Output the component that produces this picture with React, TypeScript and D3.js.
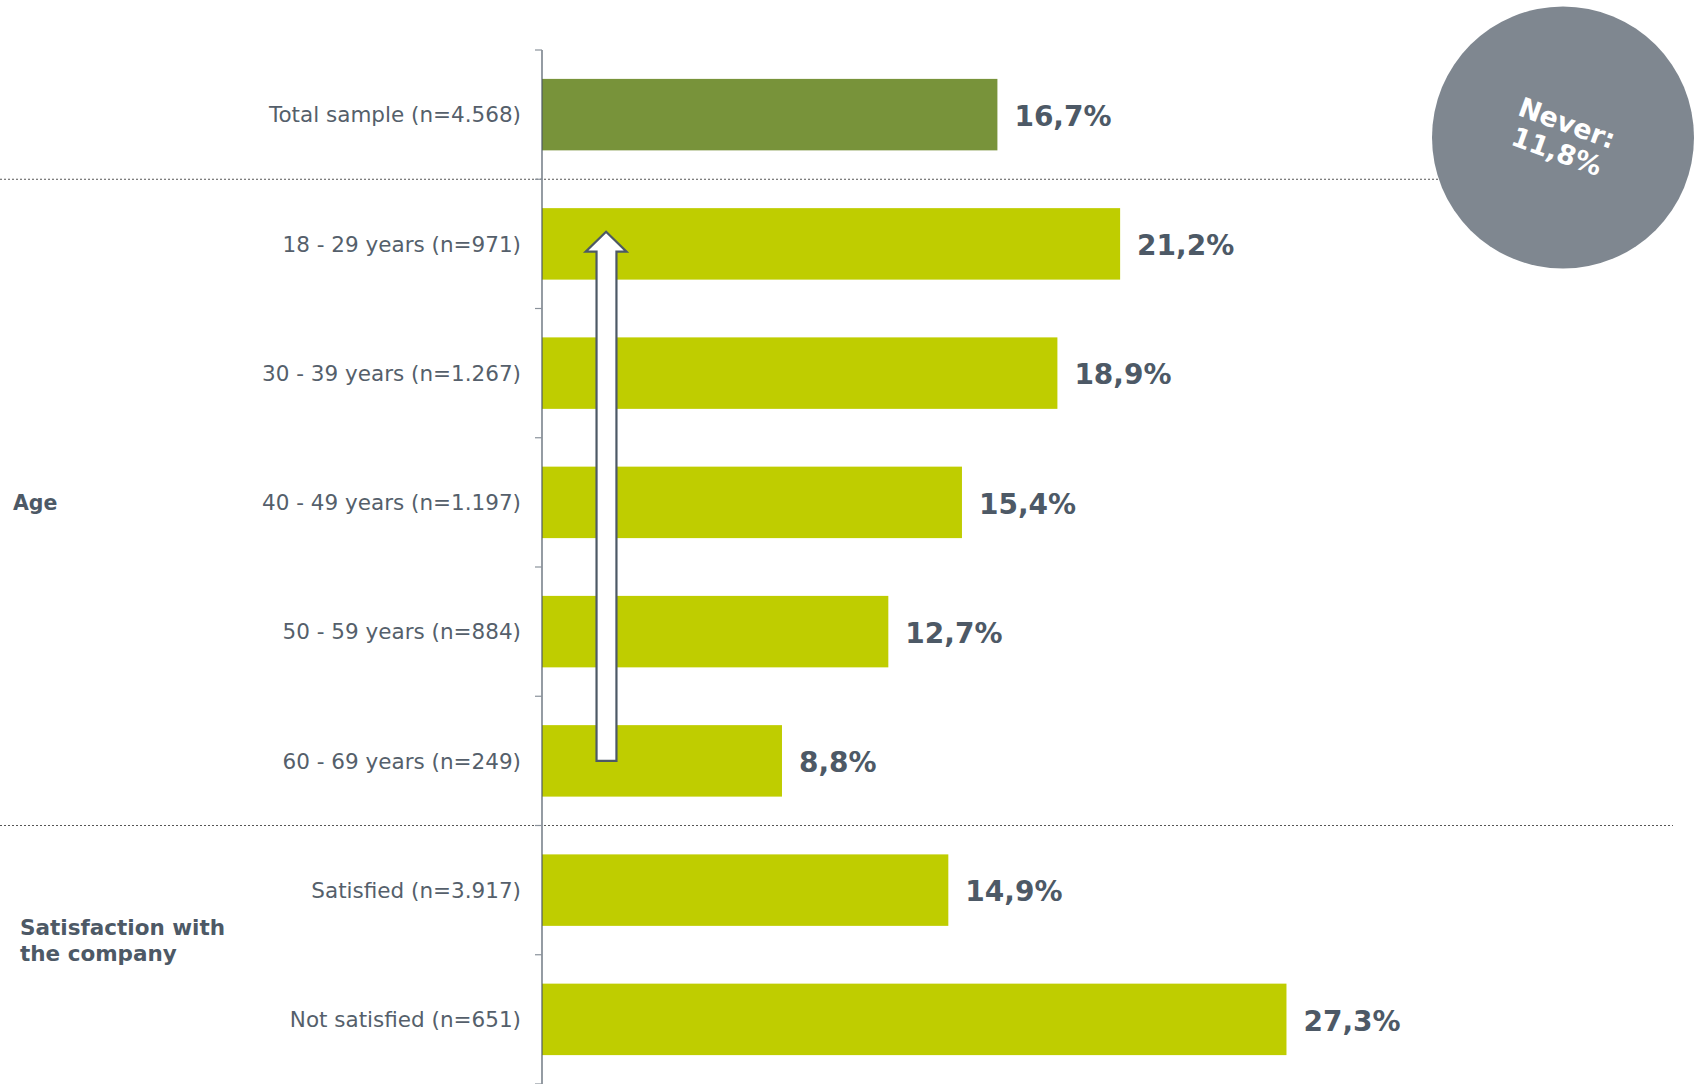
import { useEffect } from "react";
import * as d3 from "d3";

const categories = [
  "Total sample (n=4.568)",
  "18 - 29 years (n=971)",
  "30 - 39 years (n=1.267)",
  "40 - 49 years (n=1.197)",
  "50 - 59 years (n=884)",
  "60 - 69 years (n=249)",
  "Satisfied (n=3.917)",
  "Not satisfied (n=651)",
];
const values = [16.7, 21.2, 18.9, 15.4, 12.7, 8.8, 14.9, 27.3];
const valueLabels = ["16,7%", "21,2%", "18,9%", "15,4%", "12,7%", "8,8%", "14,9%", "27,3%"];
const groups = [
  { lines: ["Age"], from: 1, to: 5 },
  { lines: ["Satisfaction with", "the company"], from: 6, to: 7 },
];
// separators drawn after these category indexes
const separators = [0, 5];
const neverLines = ["Never:", "11,8%"];

const W = 1698;
const H = 1084;
const TEXT = "#555f6b";
const AXIS = "#4d5966";

export default function App() {
  useEffect(() => {
    document.body.style.margin = "0";
  }, []);

  const x0 = 542;
  const y = d3
    .scaleBand<string>()
    .domain(categories)
    .range([50, H])
    .paddingInner(0.447)
    .paddingOuter(0.2235);
  const x = d3.scaleLinear().domain([0, 10]).range([x0, x0 + 272.7]);

  const step = y.step();
  const bw = y.bandwidth();
  const boundary = (i: number) => (y(categories[i]) as number) - (step - bw) / 2;
  const ticks = d3.range(categories.length + 1).map((i) =>
    i < categories.length ? boundary(i) : boundary(i - 1) + step
  );

  // arrow from oldest to youngest age group
  const aLeft = x(2.0);
  const aRight = x(2.73);
  const hLeft = x(1.6);
  const hRight = x(3.1);
  const aBottom = (y(categories[5]) as number) + bw * 0.5;
  const aTip = (y(categories[1]) as number) + bw * 0.33;
  const aBase = aTip + 20;
  const arrow = `M${aLeft},${aBottom} L${aLeft},${aBase} L${hLeft},${aBase} L${(hLeft + hRight) / 2},${aTip} L${hRight},${aBase} L${aRight},${aBase} L${aRight},${aBottom} Z`;

  return (
    <svg width={W} height={H} style={{ display: "block" }} fontFamily="'DejaVu Sans', Verdana, sans-serif">
      {separators.map((i) => (
        <line
          key={i}
          x1={0}
          x2={i === 0 ? 1440 : 1673}
          y1={boundary(i) + step}
          y2={boundary(i) + step}
          stroke="#555"
          strokeWidth={1}
          strokeDasharray="2,2"
        />
      ))}
      {categories.map((c, i) => (
        <g key={c}>
          <rect
            x={x0}
            y={y(c)}
            width={x(values[i]) - x0}
            height={bw}
            fill={i === 0 ? "#78933a" : "#bfcd00"}
          />
          <text
            x={x(values[i]) + 17}
            y={(y(c) as number) + bw / 2}
            dy="0.4em"
            fontSize={28}
            fontWeight="bold"
            fill={AXIS}
          >
            {valueLabels[i]}
          </text>
          <text
            x={x0 - 21}
            y={(y(c) as number) + bw / 2}
            dy="0.36em"
            textAnchor="end"
            fontSize={21.5}
            fill={TEXT}
          >
            {c}
          </text>
        </g>
      ))}
      <line x1={x0} x2={x0} y1={ticks[0]} y2={H} stroke={AXIS} strokeWidth={1.2} />
      {ticks.map((t, i) => (
        <line key={i} x1={x0 - 7} x2={x0} y1={t} y2={t} stroke="#8a929b" strokeWidth={1.2} />
      ))}
      {groups.map((g, gi) => {
        const mid =
          ((y(categories[g.from]) as number) + (y(categories[g.to]) as number) + bw) / 2;
        const lh = 26;
        const top = mid - ((g.lines.length - 1) * lh) / 2 - (gi === 0 ? 0 : 14);
        const gx = gi === 0 ? 13 : 20;
        return (
          <text key={gi} x={gx} fontSize={gi === 0 ? 20.5 : 21.5} fontWeight="bold" fill={AXIS}>
            {g.lines.map((l, li) => (
              <tspan key={li} x={gx} y={top + li * lh} dy="0.36em">
                {l}
              </tspan>
            ))}
          </text>
        );
      })}
      <path d={arrow} fill="#fff" stroke={AXIS} strokeWidth={2.2} strokeLinejoin="miter" />
      <circle cx={1563} cy={137.5} r={131} fill="#7f8790" />
      <g transform="translate(1562,137) rotate(20)">
        {neverLines.map((l, i) => (
          <text
            key={l}
            x={0}
            y={(i - 0.5) * 30}
            dy="0.36em"
            textAnchor="middle"
            fontSize={27}
            fontWeight="bold"
            fill="#fff"
          >
            {l}
          </text>
        ))}
      </g>
    </svg>
  );
}
